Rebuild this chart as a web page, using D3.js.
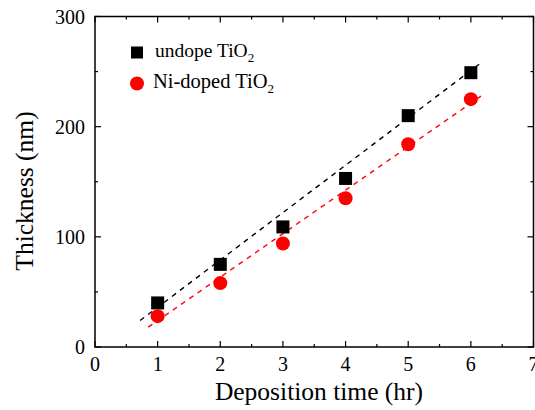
<!DOCTYPE html>
<html lang="en">
<head>
<meta charset="utf-8">
<title>Thickness vs deposition time</title>
<script src="https://d3js.org/d3.v7.min.js"></script>
<style>
  body, html { margin: 0; background: #fff; }
  svg { display: block; }
  text { font-family: "Liberation Serif", "DejaVu Serif", serif; fill: #000; }
</style>
</head>
<body>
<svg width="535" height="410" font-family="Liberation Serif, serif"></svg>
<script>
// data
var hours = [1, 2, 3, 4, 5, 6];
var undoped = [40, 75, 109, 153, 210, 249];
var niDoped = [28, 58, 94, 135, 184, 225];
// dashed fit lines, start and end points [hr, nm]
var undopedFit = [[0.72, 24], [6.14, 257]];
var niDopedFit = [[0.85, 18], [6.22, 230]];
var xTicks = [0, 1, 2, 3, 4, 5, 6, 7];
var yTicks = [0, 100, 200, 300];

var svg = d3.select("svg");
var pLeft = 95, pRight = 533.5, pTop = 16.5, pBottom = 347;

var x = d3.scaleLinear().domain([0, 7]).range([pLeft, pRight]);
var y = d3.scaleLinear().domain([0, 300]).range([pBottom, pTop]);

// frame
svg.append("rect")
  .attr("x", pLeft).attr("y", pTop)
  .attr("width", pRight - pLeft).attr("height", pBottom - pTop)
  .attr("fill", "none").attr("stroke", "#000").attr("stroke-width", 1.5);

// inward ticks on all four sides
var g = svg.append("g").attr("stroke", "#000").attr("stroke-width", 1.2);
d3.range(0, 7.01, 0.5).forEach(function(v) {
  var len = (v % 1 === 0) ? 6 : 3;
  g.append("line").attr("x1", x(v)).attr("x2", x(v)).attr("y1", pBottom).attr("y2", pBottom - len);
  g.append("line").attr("x1", x(v)).attr("x2", x(v)).attr("y1", pTop).attr("y2", pTop + len);
});
d3.range(0, 301, 50).forEach(function(v) {
  var len = (v % 100 === 0) ? 6 : 3;
  g.append("line").attr("y1", y(v)).attr("y2", y(v)).attr("x1", pLeft).attr("x2", pLeft + len);
  g.append("line").attr("y1", y(v)).attr("y2", y(v)).attr("x1", pRight).attr("x2", pRight - len);
});

// tick labels
svg.selectAll(".xt").data(xTicks).enter().append("text")
  .attr("x", d => x(d)).attr("y", 371)
  .attr("text-anchor", "middle").attr("font-size", 20)
  .text(d => d);
svg.selectAll(".yt").data(yTicks).enter().append("text")
  .attr("x", 85).attr("y", d => y(d) + 7)
  .attr("text-anchor", "end").attr("font-size", 20)
  .text(d => d);

// axis titles
svg.append("text")
  .attr("x", 319).attr("y", 400)
  .attr("text-anchor", "middle").attr("font-size", 25.5)
  .text("Deposition time (hr)");
svg.append("text")
  .attr("transform", "translate(33,191) rotate(-90)")
  .attr("text-anchor", "middle").attr("font-size", 25.5)
  .text("Thickness (nm)");

// fit lines
var line = d3.line().x(d => x(d[0])).y(d => y(d[1]));
svg.append("path").datum(undopedFit).attr("d", line)
  .attr("stroke", "#000").attr("stroke-width", 1.4).attr("stroke-dasharray", "5,5").attr("fill", "none");
svg.append("path").datum(niDopedFit).attr("d", line)
  .attr("stroke", "#ff0000").attr("stroke-width", 1.4).attr("stroke-dasharray", "5,5").attr("fill", "none");

// markers
var s = 13;
svg.selectAll(".sq").data(hours).enter().append("rect")
  .attr("x", d => x(d) - s / 2).attr("y", (d, i) => y(undoped[i]) - s / 2)
  .attr("width", s).attr("height", s).attr("fill", "#000");
svg.selectAll(".ci").data(hours).enter().append("circle")
  .attr("cx", d => x(d)).attr("cy", (d, i) => y(niDoped[i]))
  .attr("r", 7).attr("fill", "#ff0000");

// legend
svg.append("rect").attr("x", 131).attr("y", 46.5).attr("width", 12).attr("height", 12).attr("fill", "#000");
svg.append("circle").attr("cx", 137).attr("cy", 83.5).attr("r", 7).attr("fill", "#ff0000");
var l1 = svg.append("text").attr("x", 155).attr("y", 57).attr("font-size", 19.5);
l1.append("tspan").text("undope TiO");
l1.append("tspan").attr("dy", 5).attr("font-size", 13).text("2");
var l2 = svg.append("text").attr("x", 153).attr("y", 88).attr("font-size", 20.5);
l2.append("tspan").text("Ni-doped TiO");
l2.append("tspan").attr("dy", 5).attr("font-size", 13).text("2");
</script>
</body>
</html>
